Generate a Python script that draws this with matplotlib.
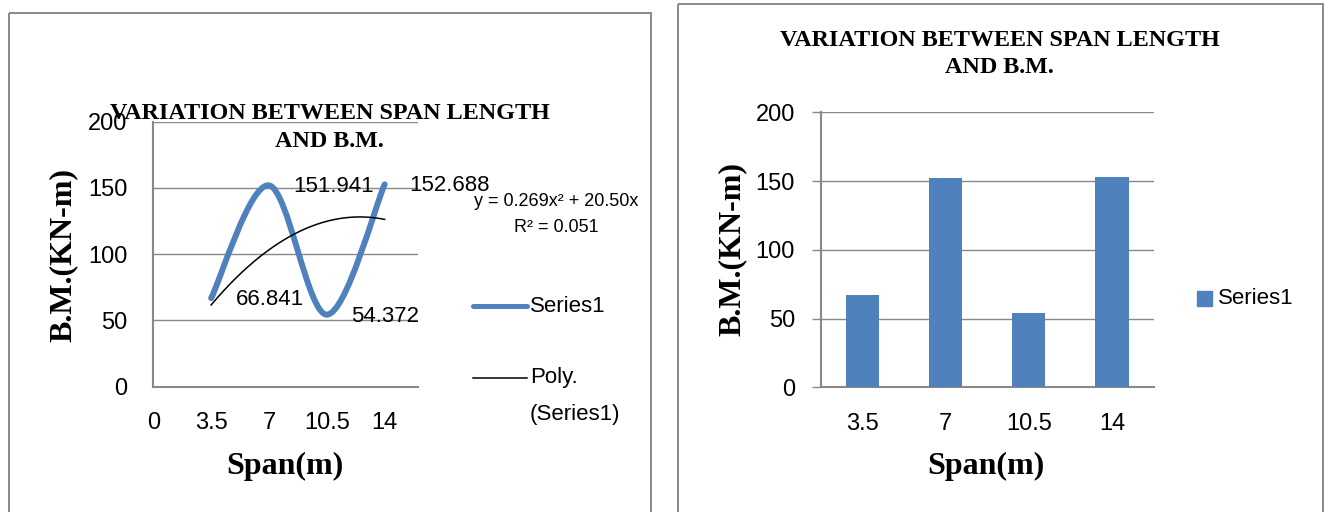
import numpy as np
import matplotlib
matplotlib.use("Agg")
import matplotlib.pyplot as plt
from matplotlib.path import Path
from matplotlib.patches import PathPatch, Rectangle
from matplotlib.lines import Line2D

# ---------------- data ----------------
spans = [3.5, 7, 10.5, 14]
bm_values = [66.841, 151.941, 54.372, 152.688]
line_xticks = [0, 3.5, 7, 10.5, 14]
line_xticklabels = ["0", "3.5", "7", "10.5", "14"]
bar_labels = ["3.5", "7", "10.5", "14"]
y_ticks = [0, 50, 100, 150, 200]
trend_coeffs = [-0.82, 20.50, 0.0]   # poly(2) trendline as drawn
title_text = "VARIATION BETWEEN SPAN LENGTH\nAND B.M."
x_label = "Span(m)"
y_label = "B.M.(KN-m)"
series_name = "Series1"
trend_name = "Poly.\n(Series1)"
equation_text = "y = 0.269x\u00b2 + 20.50x\nR\u00b2 = 0.051"

# ---------------- style ----------------
W, H = 1325, 512
BLUE = "#4F81BD"
GRAY = "#898989"
SERIF = ["Liberation Serif", "DejaVu Serif"]
plt.rcParams['font.family'] = ['Liberation Sans', 'DejaVu Sans']

fig = plt.figure(figsize=(W / 100, H / 100), dpi=100)


def rect(l, t, r, b):
    return [l / W, 1 - b / H, (r - l) / W, (b - t) / H]


ax1 = fig.add_axes(rect(153.3, 121.7, 417.7, 386.7))
ax2 = fig.add_axes(rect(820.7, 112.3, 1153.6, 387.3))
ov = fig.add_axes([0, 0, 1, 1], zorder=5)
ov.set_xlim(0, W)
ov.set_ylim(H, 0)
ov.axis('off')


def smooth_path(xs, ys, t=1 / 6):
    pts = np.column_stack([xs, ys]).astype(float)
    n = len(pts)
    verts = [pts[0]]
    codes = [Path.MOVETO]
    for i in range(n - 1):
        p_prev = pts[max(i - 1, 0)]
        p0 = pts[i]
        p1 = pts[i + 1]
        p_next = pts[min(i + 2, n - 1)]
        c1 = p0 + (p1 - p_prev) * t
        c2 = p1 - (p_next - p0) * t
        verts += [c1, c2, p1]
        codes += [Path.CURVE4] * 3
    return Path(verts, codes)


# ---------------- left: smoothed line chart ----------------
for ax in (ax1, ax2):
    ax.set_ylim(0, 200)
    ax.set_yticks(y_ticks)
    ax.grid(axis='y', color=GRAY, lw=1.0)
    ax.set_axisbelow(True)
    for s in ('top', 'right'):
        ax.spines[s].set_visible(False)
    for s in ('left', 'bottom'):
        ax.spines[s].set_color(GRAY)
        ax.spines[s].set_linewidth(1.5)

ax1.set_xlim(0, 16)
ax1.set_xticks(line_xticks, line_xticklabels)
ax1.tick_params(axis='both', length=0, labelsize=17)
ax1.tick_params(axis='y', pad=18.4)
ax1.tick_params(axis='x', pad=18.3)

ax1.add_patch(PathPatch(smooth_path(spans, bm_values), facecolor='none',
                        edgecolor=BLUE, lw=4.3, capstyle='round',
                        joinstyle='round', zorder=3))
xs = np.linspace(spans[0], spans[-1], 200)
ax1.plot(xs, np.polyval(trend_coeffs, xs), color='black', lw=1.1, zorder=4)
for x, v in zip(spans, bm_values):
    ax1.annotate(f"{v:.3f}", (x, v), xytext=(17.5, -1),
                 textcoords='offset points', ha='left', va='center',
                 fontsize=16, zorder=5)

ax1.set_ylabel(y_label, fontfamily=SERIF, fontweight='bold', fontsize=23,
               va='center')
ax1.yaxis.set_label_coords((63.3 - 153.3) / 264.4, (386.7 - 255) / 265)
ax1.set_xlabel(x_label, fontfamily=SERIF, fontweight='bold', fontsize=23,
               va='center')
ax1.xaxis.set_label_coords((284.7 - 153.3) / 264.4, (386.7 - 466) / 265)

# ---------------- right: column chart ----------------
cats = np.arange(len(bar_labels))
ax2.bar(cats, bm_values, width=0.4, color=BLUE, zorder=3)
ax2.set_xlim(-0.5, len(bar_labels) - 0.5)
ax2.set_xticks(cats, bar_labels)
ax2.tick_params(axis='x', length=0, labelsize=17, pad=18.3)
ax2.tick_params(axis='y', length=6.3, width=1.0, color=GRAY, labelsize=17,
                pad=12.2)
ax2.set_ylabel(y_label, fontfamily=SERIF, fontweight='bold', fontsize=23,
               va='center')
ax2.yaxis.set_label_coords((731.7 - 820.7) / 332.9, (387.3 - 249.5) / 275)
ax2.set_xlabel(x_label, fontfamily=SERIF, fontweight='bold', fontsize=23,
               va='center')
ax2.xaxis.set_label_coords(0.4966, (387.3 - 466) / 275)

# ---------------- overlay: borders, titles, legends ----------------
ov.add_patch(Rectangle((9.3, 13.3), 641.7, 520, fill=False, ec=GRAY, lw=1.4))
ov.add_patch(Rectangle((677.7, 4.0), 645.6, 520, fill=False, ec=GRAY, lw=1.4))

ov.text(329.5, 127.5, title_text, ha='center', va='center',
        multialignment='center', fontfamily=SERIF, fontweight='bold',
        fontsize=17.4, linespacing=1.4)
ov.text(999.5, 54.0, title_text, ha='center', va='center',
        multialignment='center', fontfamily=SERIF, fontweight='bold',
        fontsize=17.4, linespacing=1.35)

ov.text(556, 214.5, equation_text, ha='center', va='center',
        multialignment='center', fontsize=13, linespacing=1.75)

ov.add_line(Line2D([472.7, 526.7], [306, 306], color=BLUE, lw=3.6,
                   solid_capstyle='round'))
ov.text(530, 307, series_name, ha='left', va='center', fontsize=16)
ov.add_line(Line2D([473, 527], [377.7, 377.7], color='black', lw=1.1))
ov.text(530, 367, trend_name, ha='left', va='top', fontsize=16,
        linespacing=2.0)

ov.add_patch(Rectangle((1197.3, 290.7), 14.7, 15.3, color=BLUE))
ov.text(1218, 299, series_name, ha='left', va='center', fontsize=16)

fig.savefig("out.png", dpi=100)
